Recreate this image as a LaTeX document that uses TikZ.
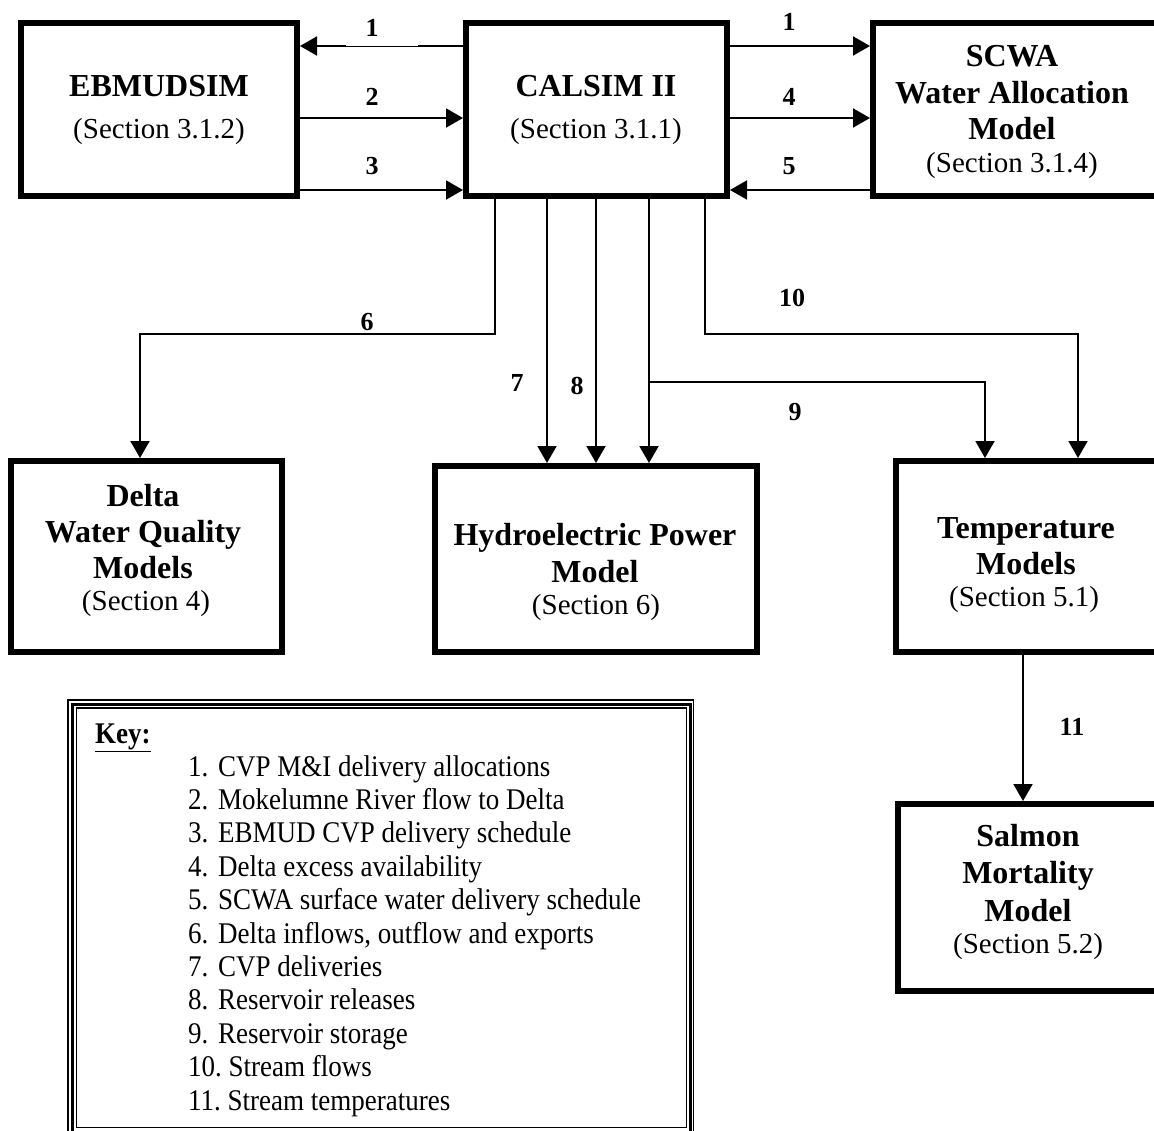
\documentclass[tikz,border=0pt]{standalone}
\usepackage{fontspec}
\setmainfont{Liberation Serif}
\newfontfamily\keyfont[FakeStretch=0.9]{Liberation Serif}
\usetikzlibrary{arrows.meta}
\begin{document}
\begin{tikzpicture}[x=1pt,y=-1pt,
 box/.style={draw,line width=6pt,rectangle,inner sep=0pt},
 conn/.style={line width=2pt},
 arr/.style={conn,-{Triangle[length=17pt,width=19pt]}},
 ttl/.style={anchor=base,inner sep=0pt,font=\fontsize{32}{37}\selectfont\bfseries},
 sec/.style={anchor=base,inner sep=0pt,font=\fontsize{29}{35}\selectfont},
 lab/.style={inner sep=0pt,font=\fontsize{26}{30}\selectfont\bfseries},
 keyt/.style={anchor=base west,inner sep=0pt,font=\keyfont\fontsize{30}{35}\selectfont}]
\useasboundingbox (0,0) rectangle (1154,1131);
\fill[white] (0,0) rectangle (1154,1131);

% boxes
\node[box,minimum width=276pt,minimum height=173pt] (ebmud) at (159,110) {};
\node[box,minimum width=261pt,minimum height=173pt] (calsim) at (596.5,110) {};
\node[box,minimum width=297pt,minimum height=173pt] (scwa) at (1021.5,110) {};
\node[box,minimum width=271pt,minimum height=191pt] (delta) at (146.5,556.5) {};
\node[box,minimum width=322pt,minimum height=186pt] (hydro) at (596,559) {};
\node[box,minimum width=274pt,minimum height=191pt] (temp) at (1033,556.5) {};
\node[box,minimum width=272pt,minimum height=187pt] (salmon) at (1034,897.5) {};

% box texts
\node[ttl] (ebmud-t) at (159,97) {EBMUDSIM};
\node[sec] (ebmud-s) at (159,139) {(Section 3.1.2)};
\node[ttl] (calsim-t) at (596,97) {CALSIM II};
\node[sec] (calsim-s) at (596,139) {(Section 3.1.1)};
\node[ttl] (scwa-t1) at (1012,67) {SCWA};
\node[ttl] (scwa-t2) at (1012,104) {Water Allocation};
\node[ttl] (scwa-t3) at (1012,140) {Model};
\node[sec] (scwa-s) at (1012,173) {(Section 3.1.4)};
\node[ttl] (delta-t1) at (143,506) {Delta};
\node[ttl] (delta-t2) at (143,542) {Water Quality};
\node[ttl] (delta-t3) at (143,578) {Models};
\node[sec] (delta-s) at (146,610) {(Section 4)};
\node[ttl] (hydro-t1) at (595,545) {Hydroelectric Power};
\node[ttl] (hydro-t2) at (595,582) {Model};
\node[sec] (hydro-s) at (596,614) {(Section 6)};
\node[ttl] (temp-t1) at (1026,538) {Temperature};
\node[ttl] (temp-t2) at (1026,574) {Models};
\node[sec] (temp-s) at (1024,606) {(Section 5.1)};
\node[ttl] (salmon-t1) at (1028,846) {Salmon};
\node[ttl] (salmon-t2) at (1028,883) {Mortality};
\node[ttl] (salmon-t3) at (1028,921) {Model};
\node[sec] (salmon-s) at (1028,953) {(Section 5.2)};

% horizontal connectors
\draw[arr] (calsim.west |- 0,46) -- (ebmud.east |- 0,46);
\draw[white,line width=2.2pt] (346,46) -- (418,46);
\draw[line width=0.8pt] (346,46) -- (418,46);
\draw[arr] (ebmud.east |- 0,118) -- (calsim.west |- 0,118);
\draw[arr] (ebmud.east |- 0,190) -- (calsim.west |- 0,190);
\draw[arr] (calsim.east |- 0,46) -- (scwa.west |- 0,46);
\draw[arr] (calsim.east |- 0,118) -- (scwa.west |- 0,118);
\draw[arr] (scwa.west |- 0,190) -- (calsim.east |- 0,190);

% downward connectors
\draw[arr] (calsim.south -| 495,0) -- (495,334) -| (delta.north -| 140,0);
\draw[arr] (calsim.south -| 547,0) -- (hydro.north -| 547,0);
\draw[arr] (calsim.south -| 596,0) -- (hydro.north -| 596,0);
\draw[arr] (calsim.south -| 649,0) -- (hydro.north -| 649,0);
\coordinate (br9) at (649,382);
\draw[arr] (br9) -| (temp.north -| 985,0);
\draw[arr] (calsim.south -| 705,0) -- (705,334) -| (temp.north -| 1078,0);
\draw[arr] (temp.south -| 1023,0) -- (salmon.north -| 1023,0);

% connector labels
\node[lab] (l1a) at (372,28) {1};
\node[lab] (l2) at (372,97) {2};
\node[lab] (l3) at (372,166) {3};
\node[lab] (l1b) at (789,22) {1};
\node[lab] (l4) at (789,97) {4};
\node[lab] (l5) at (789,166) {5};
\node[lab] (l6) at (367,322) {6};
\node[lab] (l7) at (517,383) {7};
\node[lab] (l8) at (577,386) {8};
\node[lab] (l9) at (795,412) {9};
\node[lab] (l10) at (792,298) {10};
\node[lab] (l11) at (1072,727) {11};

% key frame
\draw[line width=1.3pt] (68,700) rectangle (693.5,1160);
\draw[line width=3pt] (72,704) rectangle (690,1160);
\draw[line width=1.3pt] (76.5,708) rectangle (686.5,1127.5);

% key text
\node[keyt] (keyh) at (95,743) {\underline{\textbf{Key:}}};
\node[keyt] (k1) at (188,776) {\makebox[30pt][l]{1.}CVP M\&I delivery allocations};
\node[keyt] (k2) at (188,809.4) {\makebox[30pt][l]{2.}Mokelumne River flow to Delta};
\node[keyt] (k3) at (188,842.8) {\makebox[30pt][l]{3.}EBMUD CVP delivery schedule};
\node[keyt] (k4) at (188,876.2) {\makebox[30pt][l]{4.}Delta excess availability};
\node[keyt] (k5) at (188,909.6) {\makebox[30pt][l]{5.}SCWA surface water delivery schedule};
\node[keyt] (k6) at (188,943) {\makebox[30pt][l]{6.}Delta inflows, outflow and exports};
\node[keyt] (k7) at (188,976.4) {\makebox[30pt][l]{7.}CVP deliveries};
\node[keyt] (k8) at (188,1009.8) {\makebox[30pt][l]{8.}Reservoir releases};
\node[keyt] (k9) at (188,1043.2) {\makebox[30pt][l]{9.}Reservoir storage};
\node[keyt] (k10) at (188,1076.6) {10.\ Stream flows};
\node[keyt] (k11) at (188,1110) {11.\ Stream temperatures};
\end{tikzpicture}
\end{document}
